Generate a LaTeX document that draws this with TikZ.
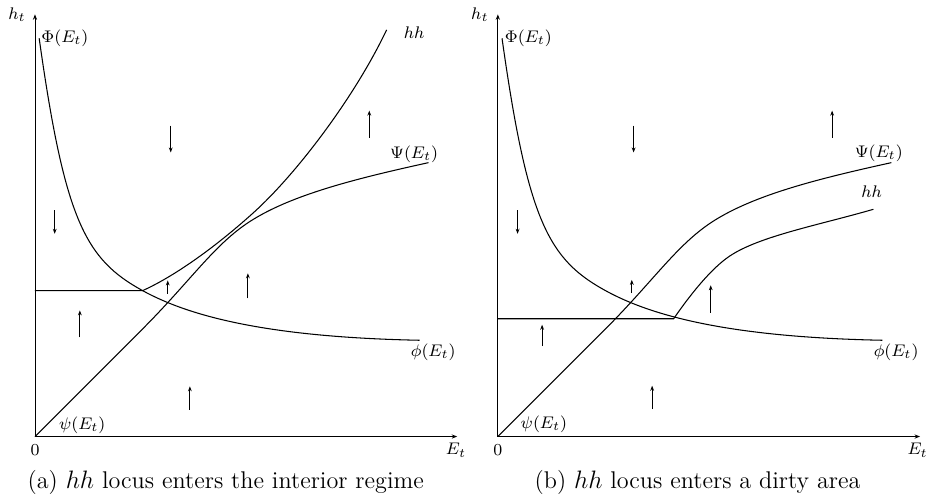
\documentclass[tikz,border=0pt]{standalone}
\usetikzlibrary{arrows.meta}
\tikzset{
  achse/.style={-{Stealth[length=2.6pt,width=2pt]}, line width=0.45pt},
  kurve/.style={line width=0.5pt},
  pfeil/.style={-{Stealth[length=2.4pt,width=1.8pt]}, line width=0.45pt},
  beschr/.style={font=\footnotesize, inner sep=0pt},
  titel/.style={font=\fontsize{11.5}{13}\selectfont, inner sep=0pt}
}
\begin{document}
\begin{tikzpicture}
    \useasboundingbox (-0.585,-0.978) rectangle (14.95,7.30);

    % ---------- (a) ----------
    % Achsen
    \draw[achse] (0,0) -- (0,7.06);
    \draw[achse] (0,0) -- (7.06,0);
    \node[beschr] (htA) at (-0.30,7.06) {$h_t$};
    \node[beschr] (EtA) at (7.04,-0.23) {$E_t$};
    \node[beschr] (nullA) at (0,-0.23) {$0$};

    % Phi / phi
    \draw[kurve] (0.07,6.66) .. controls (0.50,3.6) and (0.85,2.96) .. (1.80,2.44)
                 .. controls (2.6,2.0) and (3.93,1.66) .. (6.43,1.61);

    % Psi / psi
    \draw[kurve] (0,0) -- (1.8,1.8) .. controls (2.6,2.6) and (3.0,3.216) .. (3.6,3.6)
                 .. controls (4.3,4.048) and (5.38,4.316) .. (6.58,4.58);

    % hh
    \draw[kurve] (0,2.44) -- (1.80,2.44) .. controls (2.2,2.62) and (2.85,3.02) .. (3.65,3.74)
                 .. controls (4.35,4.37) and (5.33,5.645) .. (5.88,6.80);

    % Beschriftung
    \node[beschr] (PhiA) at (0.50,6.66) {$\Phi(E_t)$};
    \node[beschr] (hhA) at (6.34,6.75) {$hh$};
    \node[beschr] (PsiA) at (6.34,4.72) {$\Psi(E_t)$};
    \node[beschr] (phiA) at (6.66,1.41) {$\phi(E_t)$};
    \node[beschr] (psiA) at (0.79,0.19) {$\psi(E_t)$};

    % Richtungen
    \draw[pfeil] (0.33,3.78) -- (0.33,3.39);
    \draw[pfeil] (2.27,5.20) -- (2.27,4.75);
    \draw[pfeil] (5.59,5.00) -- (5.59,5.45);
    \draw[pfeil] (2.22,2.39) -- (2.22,2.61);
    \draw[pfeil] (3.56,2.31) -- (3.56,2.73);
    \draw[pfeil] (0.75,1.66) -- (0.75,2.11);
    \draw[pfeil] (2.59,0.45) -- (2.59,0.84);

    \node[titel] (capA) at (3.19,-0.76) {(a) $hh$ locus enters the interior regime};

    % ---------- (b) ----------
    \begin{scope}[xshift=7.74cm]
    % Achsen
    \draw[achse] (0,0) -- (0,7.06);
    \draw[achse] (0,0) -- (7.06,0);
    \node[beschr] (htB) at (-0.30,7.06) {$h_t$};
    \node[beschr] (EtB) at (7.02,-0.23) {$E_t$};
    \node[beschr] (nullB) at (0,-0.23) {$0$};

    % Phi / phi
    \draw[kurve] (0.07,6.66) .. controls (0.50,3.6) and (0.85,2.96) .. (1.80,2.44)
                 .. controls (2.6,2.0) and (3.93,1.66) .. (6.43,1.61);

    % Psi / psi
    \draw[kurve] (0,0) -- (1.8,1.8) .. controls (2.6,2.6) and (3.0,3.216) .. (3.6,3.6)
                 .. controls (4.3,4.048) and (5.38,4.316) .. (6.58,4.58);

    % hh
    \draw[kurve] (0,1.97) -- (2.94,1.97) .. controls (3.24,2.405) and (3.58,2.82) .. (3.88,3.02)
                 .. controls (4.38,3.353) and (5.38,3.539) .. (6.28,3.80);

    % Beschriftung
    \node[beschr] (PhiB) at (0.51,6.66) {$\Phi(E_t)$};
    \node[beschr] (PsiB) at (6.37,4.73) {$\Psi(E_t)$};
    \node[beschr] (hhB) at (6.25,4.10) {$hh$};
    \node[beschr] (phiB) at (6.66,1.41) {$\phi(E_t)$};
    \node[beschr] (psiB) at (0.77,0.20) {$\psi(E_t)$};

    % Richtungen
    \draw[pfeil] (0.33,3.78) -- (0.33,3.39);
    \draw[pfeil] (2.27,5.20) -- (2.27,4.75);
    \draw[pfeil] (5.59,5.00) -- (5.59,5.45);
    \draw[pfeil] (2.24,2.40) -- (2.24,2.62);
    \draw[pfeil] (3.56,2.07) -- (3.56,2.53);
    \draw[pfeil] (0.74,1.51) -- (0.74,1.87);
    \draw[pfeil] (2.58,0.46) -- (2.58,0.85);

    \node[titel] (capB) at (3.34,-0.76) {(b) $hh$ locus enters a dirty area};
    \end{scope}
\end{tikzpicture}
\end{document}
